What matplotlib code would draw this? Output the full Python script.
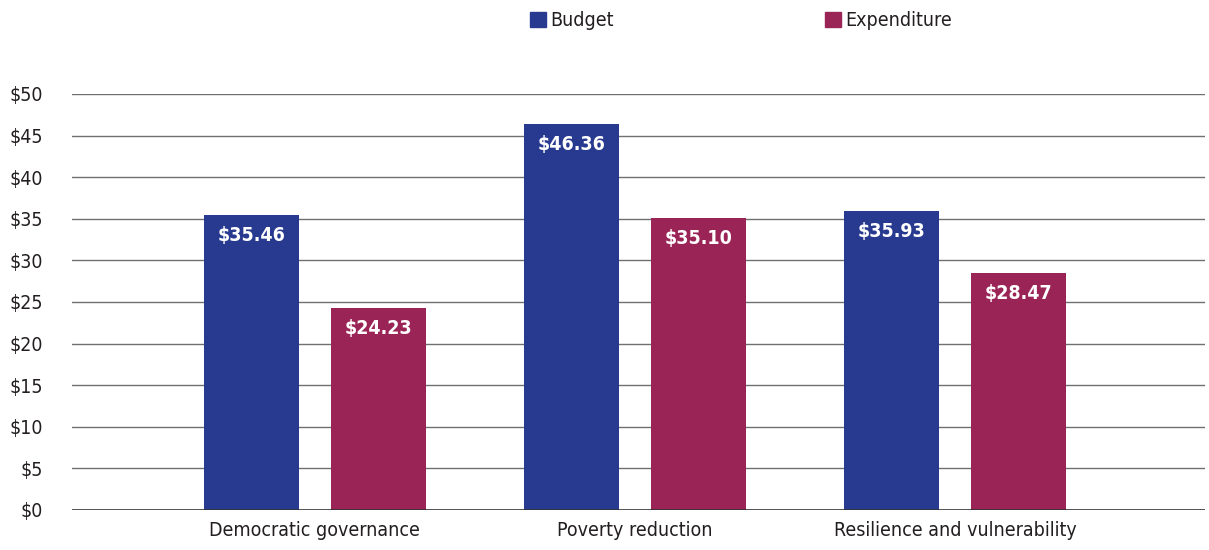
import matplotlib
matplotlib.use("Agg")
import matplotlib.pyplot as plt
import numpy as np
from matplotlib.patches import Patch

plt.rcParams['font.family'] = ['DejaVu Sans']
plt.rcParams['font.stretch'] = 'condensed'

categories = ["Democratic governance", "Poverty reduction", "Resilience and vulnerability"]
budget = [35.46, 46.36, 35.93]
expenditure = [24.23, 35.10, 28.47]
yticks = [0, 5, 10, 15, 20, 25, 30, 35, 40, 45, 50]

blue = "#283a8f"
red = "#9b2457"
txt = "#231f20"

fig = plt.figure(figsize=(12.09, 5.5), dpi=100)
ax = fig.add_axes([72 / 1209, 40 / 550, 1133 / 1209, 416 / 550])

x = np.arange(len(categories))
w = 0.297
off = 0.198
b1 = ax.bar(x - off, budget, w, color=blue, zorder=3)
b2 = ax.bar(x + off, expenditure, w, color=red, zorder=3)

for bars, vals in ((b1, budget), (b2, expenditure)):
    for r, v in zip(bars, vals):
        ax.text(r.get_x() + r.get_width() / 2, v - 1.3, f"${v:.2f}",
                ha="center", va="top", color="white", fontsize=14,
                fontweight="bold", zorder=4)

ax.set_xlim(-0.759, 2.781)
ax.set_ylim(0, 50)
ax.set_yticks(yticks)
ax.set_yticklabels([f"${t}" for t in yticks], fontsize=14, color=txt)
ax.set_xticks(x)
ax.set_xticklabels(categories, fontsize=14, color=txt)
ax.tick_params(length=0, pad=8)
ax.tick_params(axis="y", pad=21)
for t in yticks[1:]:
    ax.axhline(t, color="#707070", lw=1, zorder=1)
for s in ax.spines.values():
    s.set_visible(False)
ax.axhline(0, color="#333333", lw=1.2, zorder=4)

for patch, lab, xpos in ((blue, "Budget", 530 / 1209), (red, "Expenditure", 825 / 1209)):
    fig.legend(handles=[Patch(color=patch, label=lab)], loc="center left",
               bbox_to_anchor=(xpos, 0.962), frameon=False, fontsize=14,
               handlelength=0.8, handleheight=0.8, handletextpad=0.25,
               borderpad=0, borderaxespad=0, labelcolor=txt)

fig.savefig("out.png", dpi=100)
